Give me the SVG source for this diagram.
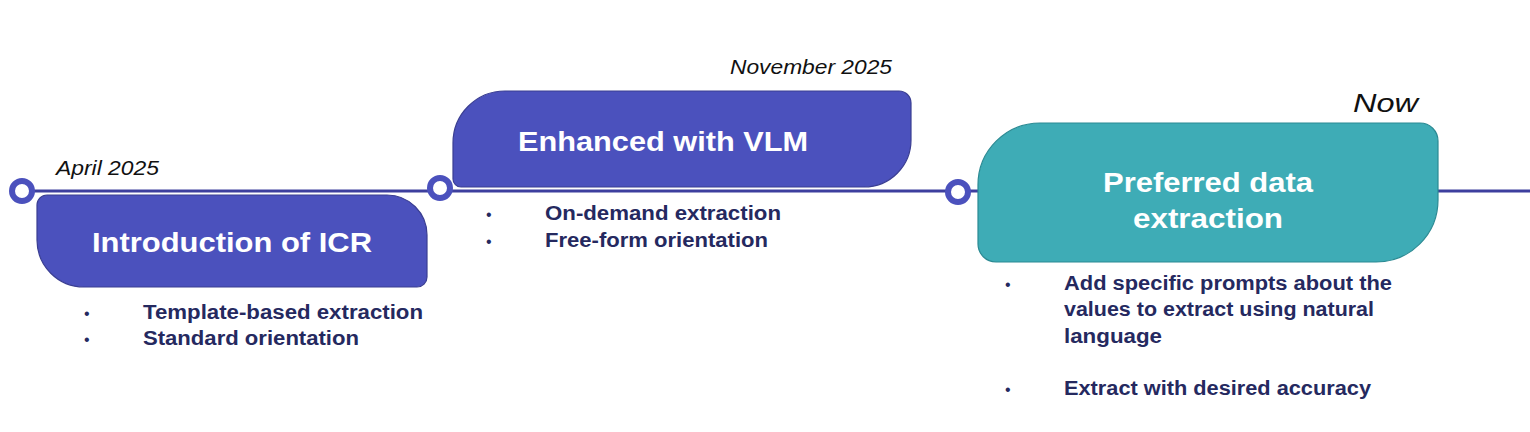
<svg xmlns="http://www.w3.org/2000/svg" width="1530" height="432" viewBox="0 0 1530 432">
<style>
.title{font-family:"Liberation Sans",Arial,sans-serif;font-weight:bold;font-size:28px;fill:#ffffff;text-anchor:middle}
.date{font-family:"Liberation Sans",Arial,sans-serif;font-style:italic;font-size:20px;fill:#111111}
.item{font-family:"Liberation Sans",Arial,sans-serif;font-weight:bold;font-size:20px;fill:#25295f}
.bul{font-family:"Liberation Sans",Arial,sans-serif;font-size:16px;fill:#25295f}
.purple{fill:#4b51bd;stroke:#3a3e92;stroke-width:1.2}
.teal{fill:#3eacb6;stroke:#2b8a93;stroke-width:1.2}
.dot{fill:#ffffff;stroke:#4b51bd;stroke-width:6}
</style>
<g id="connectors">
<line x1="22" y1="191" x2="1530" y2="191" stroke="#3d3f9e" stroke-width="3"/>
</g>
<g id="node1">
<path class="purple" d="M47 195 H387 A40 40 0 0 1 427 235 V277 A10 10 0 0 1 417 287 H84 A47 47 0 0 1 37 240 V205 A10 10 0 0 1 47 195 Z"/>
<text class="title" x="232" y="252" textLength="280" lengthAdjust="spacingAndGlyphs">Introduction of ICR</text>
<text class="date" x="56" y="175" textLength="103" lengthAdjust="spacingAndGlyphs">April 2025</text>
<text class="bul" x="84" y="319">•</text>
<text class="item" x="143" y="319" textLength="280" lengthAdjust="spacingAndGlyphs">Template-based extraction</text>
<text class="bul" x="84" y="345">•</text>
<text class="item" x="143" y="345" textLength="216" lengthAdjust="spacingAndGlyphs">Standard orientation</text>
</g>
<g id="node2">
<path class="purple" d="M505 91 H899 A12 12 0 0 1 911 103 V140 A47 47 0 0 1 864 187 H461 A8 8 0 0 1 453 179 V143 A52 52 0 0 1 505 91 Z"/>
<text class="title" x="663" y="151" textLength="290" lengthAdjust="spacingAndGlyphs">Enhanced with VLM</text>
<text class="date" x="892" y="74" text-anchor="end" textLength="162" lengthAdjust="spacingAndGlyphs">November 2025</text>
<text class="bul" x="486" y="220">•</text>
<text class="item" x="545" y="220" textLength="236" lengthAdjust="spacingAndGlyphs">On-demand extraction</text>
<text class="bul" x="486" y="247">•</text>
<text class="item" x="545" y="247" textLength="223" lengthAdjust="spacingAndGlyphs">Free-form orientation</text>
</g>
<g id="node3">
<path class="teal" d="M1040 123 H1420 A18 18 0 0 1 1438 141 V200 A62 62 0 0 1 1376 262 H996 A18 18 0 0 1 978 244 V185 A62 62 0 0 1 1040 123 Z"/>
<text class="title" x="1208" y="192" textLength="210" lengthAdjust="spacingAndGlyphs">Preferred data</text>
<text class="title" x="1208" y="228" textLength="150" lengthAdjust="spacingAndGlyphs">extraction</text>
<text class="date" x="1353" y="112" style="font-size:26px" textLength="65" lengthAdjust="spacingAndGlyphs">Now</text>
<text class="bul" x="1005" y="290">•</text>
<text class="item" x="1064" y="290" textLength="328" lengthAdjust="spacingAndGlyphs">Add specific prompts about the</text>
<text class="item" x="1064" y="316" textLength="310" lengthAdjust="spacingAndGlyphs">values to extract using natural</text>
<text class="item" x="1064" y="343" textLength="98" lengthAdjust="spacingAndGlyphs">language</text>
<text class="bul" x="1005" y="395">•</text>
<text class="item" x="1064" y="395" textLength="307" lengthAdjust="spacingAndGlyphs">Extract with desired accuracy</text>
</g>
<g id="markers">
<circle class="dot" cx="22" cy="191" r="10"/>
<circle class="dot" cx="440" cy="188" r="10"/>
<circle class="dot" cx="958" cy="192" r="10"/>
</g>
</svg>
